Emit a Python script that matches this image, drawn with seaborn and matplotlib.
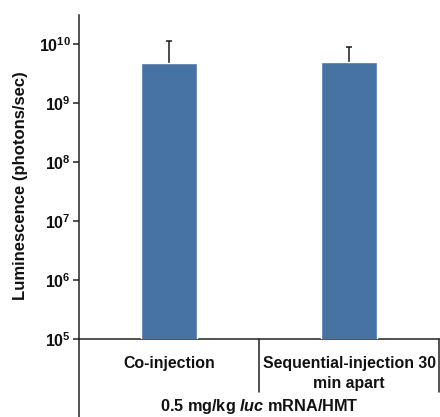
import matplotlib
matplotlib.use("Agg")
import matplotlib.pyplot as plt
from matplotlib.lines import Line2D
import seaborn as sns
import pandas as pd

# Data
groups = ["Co-injection", "Sequential-injection 30\nmin apart"]
mean_lum = [4.8e9, 5.0e9]
upper_err = [1.1e10, 9.0e9]          # top of the upper error bar
ytick_vals = [1e5, 1e6, 1e7, 1e8, 1e9, 1e10]
ytick_labels = ["$10^{5}$", "$10^{6}$", "$10^{7}$", "$10^{8}$", "$10^{9}$", "$10^{10}$"]
ylabel = "Luminescence (photons/sec)"
group_label = "0.5 mg/kg $\\mathit{luc}$ mRNA/HMT"

sns.set_style("white")
plt.rcParams["font.family"] = ["Liberation Sans", "DejaVu Sans"]
plt.rcParams["font.weight"] = "bold"
plt.rcParams["mathtext.fontset"] = "custom"
plt.rcParams["mathtext.rm"] = "Liberation Sans:bold"
plt.rcParams["mathtext.bf"] = "Liberation Sans:bold"
plt.rcParams["mathtext.it"] = "Liberation Sans:italic:bold"
plt.rcParams["mathtext.default"] = "bf"
ink = "#111111"
for key in ["text.color", "axes.labelcolor", "xtick.color", "ytick.color"]:
    plt.rcParams[key] = ink

W, H = 440, 417
fig = plt.figure(figsize=(W / 100, H / 100), dpi=100)
ax_left, ax_right, ax_top, ax_bot = 79, 439, 15, 339
ax = fig.add_axes([ax_left / W, 1 - ax_bot / H, (ax_right - ax_left) / W, (ax_bot - ax_top) / H])

df = pd.DataFrame({"group": groups, "lum": mean_lum})
bar_color = "#4673A4"
sns.barplot(data=df, x="group", y="lum", color=bar_color, width=0.31,
            saturation=1, errorbar=None, ax=ax, log_scale=True, zorder=3)

ax.set_yscale("log")
ax.set_ylim(1e5, 10 ** 10.49)
ax.set_xlim(-0.5, 1.5)

# Upper-only error bars (drawn behind the bars, no lower cap)
xs = list(range(len(groups)))
up = [u - m for u, m in zip(upper_err, mean_lum)]
eb = ax.errorbar(xs, mean_lum, yerr=[[0] * len(groups), up], fmt="none",
                 ecolor="#1a1a1a", elinewidth=1.1, capsize=2.5, capthick=1.1,
                 zorder=2)
eb[1][0].set_visible(False)

ax.set_yticks(ytick_vals)
ax.set_yticklabels(ytick_labels, fontsize=11.5)
ax.yaxis.set_minor_locator(matplotlib.ticker.NullLocator())
ax.tick_params(axis="y", which="major", direction="out", length=4, width=1.1,
               color="#222222", labelcolor=ink, pad=2, left=True)
ax.set_xticks(xs)
ax.set_xticklabels(groups, fontsize=11.4, fontweight="bold", linespacing=1.45)
ax.tick_params(axis="x", length=0, pad=12, labelcolor=ink)

ax.set_xlabel("")
ax.set_ylabel(ylabel, fontsize=12, fontweight="bold", color=ink)
ax.yaxis.set_label_coords(-0.142, 0.472)

for s in ["top", "right"]:
    ax.spines[s].set_visible(False)
for s in ["left", "bottom"]:
    ax.spines[s].set_color("#222222")
    ax.spines[s].set_linewidth(1.1)

# Category table lines below the axis
def fx(px):
    return px / W

def fy(py):
    return 1 - py / H

line_kw = dict(color="#222222", linewidth=1.1, transform=fig.transFigure)
fig.add_artist(Line2D([fx(ax_left), fx(ax_left)], [fy(ax_bot), fy(H)], **line_kw))
sep_x = ax.transData.transform((0.5, 1e6))[0] / W
fig.add_artist(Line2D([sep_x, sep_x], [fy(ax_bot), fy(392)], **line_kw))
fig.add_artist(Line2D([fx(ax_right - 0.5), fx(ax_right - 0.5)], [fy(ax_bot), fy(392)], **line_kw))

fig.text(sep_x, fy(406), group_label, ha="center", va="center",
         fontsize=11.7, fontweight="bold", color=ink)

fig.savefig("out.png", dpi=100)
